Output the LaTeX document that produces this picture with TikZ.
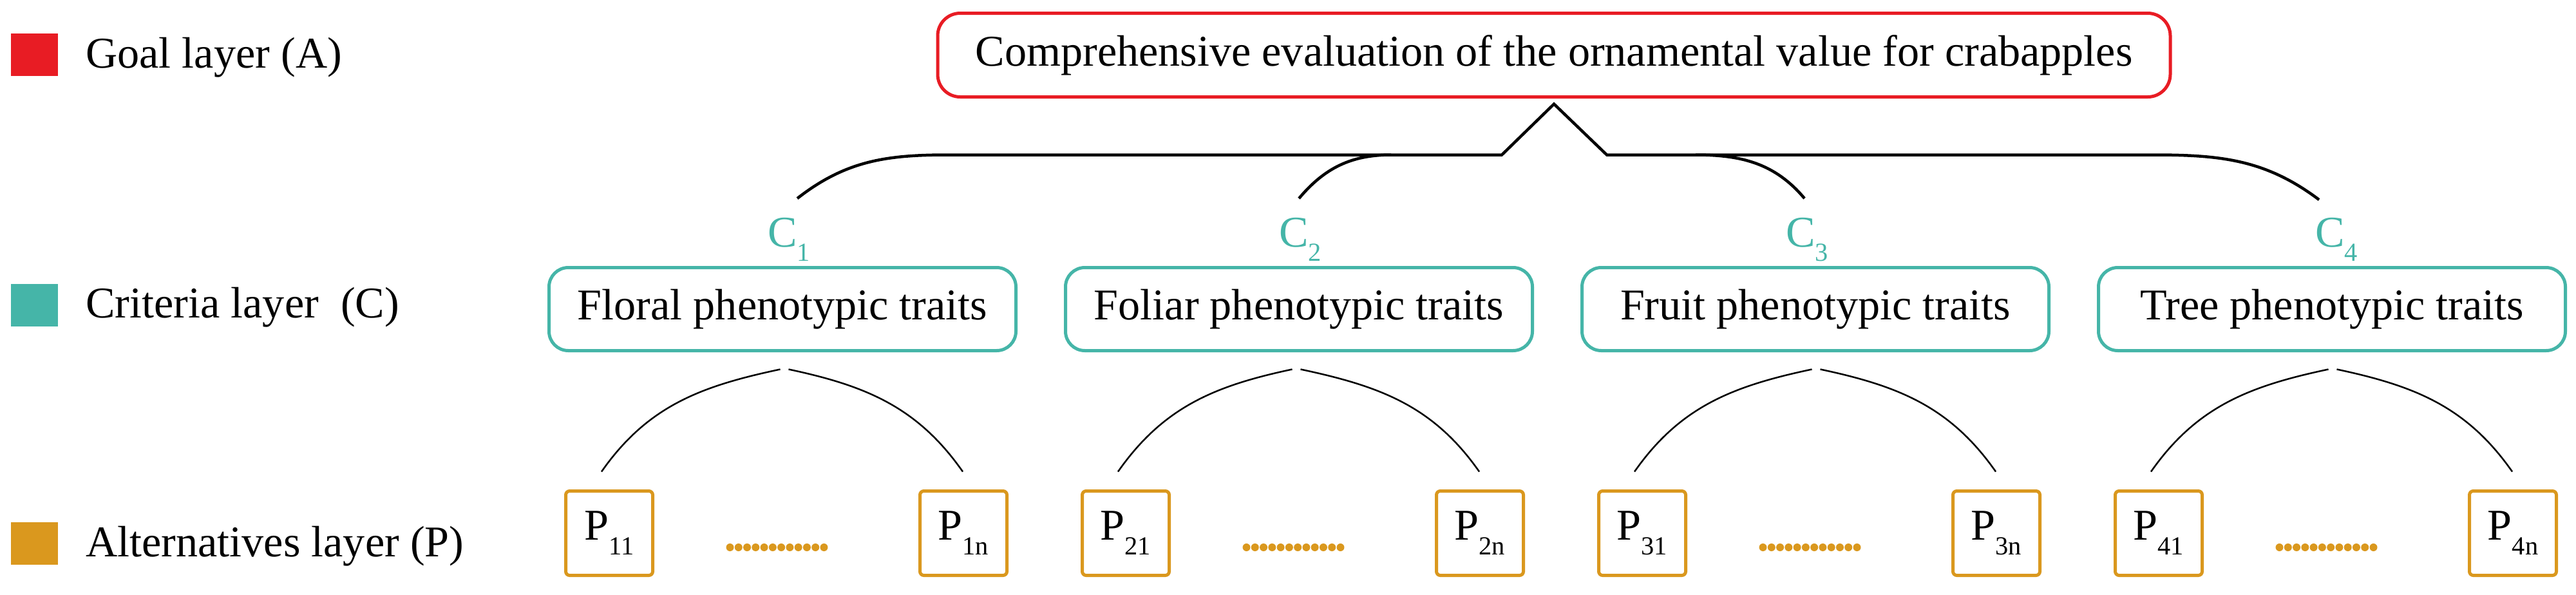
\documentclass[tikz,border=0pt]{standalone}
\usepackage{fontspec}
\setmainfont{Liberation Serif}
\usetikzlibrary{positioning,calc}
\usepackage{xcolor}

\definecolor{goalred}{RGB}{232,28,36}
\definecolor{critteal}{RGB}{69,181,168}
\definecolor{altorange}{RGB}{218,152,30}
\newcommand{\lsub}[1]{\raisebox{-6.5pt}{\fontsize{11.5}{12}\selectfont #1}}

\begin{document}
\begin{tikzpicture}[
				font=\fontsize{19.4}{23}\selectfont,
				goal/.style={draw=goalred,line width=0.05cm,rounded corners=0.35cm,minimum width=19.14cm,minimum height=1.30cm,inner sep=0},
				criterion/.style={draw=critteal,line width=0.05cm,rounded corners=0.3cm,minimum width=7.25cm,minimum height=1.29cm,inner sep=0},
				alt/.style={draw=altorange,line width=0.05cm,rounded corners=0.06cm,minimum width=1.35cm,minimum height=1.31cm,inner sep=0},
				clabel/.style={text=critteal,inner sep=0,anchor=base},
				legendbox/.style={minimum width=0.73cm,minimum height=0.66cm,inner sep=0},
				legendtext/.style={inner sep=0},
				bracket/.style={line width=0.045cm,line join=miter},
				branch/.style={line width=0.025cm},
				dots/.style={altorange,line width=0.12cm,line cap=round,dash pattern=on 0pt off 0.1327cm}
				]
				
				\useasboundingbox (0,0) rectangle (40,-9.23);
				
				% Legenda
				\node[legendbox,fill=goalred] (keyA) at (0.535,-0.85) {};
				\node[legendbox,fill=critteal] (keyC) at (0.535,-4.74) {};
				\node[legendbox,fill=altorange] (keyP) at (0.535,-8.44) {};
				\node[legendtext,right=0.42cm of keyA,anchor=base west,yshift=-0.2cm] (txtA) {Goal layer (A)};
				\node[legendtext,right=0.42cm of keyC,anchor=base west,yshift=-0.19cm] (txtC) {Criteria layer~~(C)};
				\node[legendtext,right=0.42cm of keyP,anchor=base west,yshift=-0.2cm] (txtP) {Alternatives layer (P)};
				
				% Obiettivo
				\node[goal] (goal) at (24.13,-0.855) {Comprehensive evaluation of the ornamental value for crabapples};
				
				% Criteri
				\node[criterion] (floral) at (12.15,-4.80) {Floral phenotypic traits};
				\node[criterion,right=0.72cm of floral] (foliar) {Foliar phenotypic traits};
				\node[criterion,right=0.72cm of foliar] (fruit) {Fruit phenotypic traits};
				\node[criterion,right=0.72cm of fruit] (tree) {Tree phenotypic traits};
				
				\node[clabel] (c1) at ($(floral.north)+(0.10,0.30)$) {C\lsub{1}};
				\node[clabel] (c2) at ($(foliar.north)+(0.02,0.30)$) {C\lsub{2}};
				\node[clabel] (c3) at ($(fruit.north)+(-0.13,0.30)$) {C\lsub{3}};
				\node[clabel] (c4) at ($(tree.north)+(0.07,0.30)$) {C\lsub{4}};
				
				% Alternative
				\node[alt] (p11) at ($(floral.center)+(-2.69,-3.48)$) {P\lsub{11}};
				\node[alt,right=4.10cm of p11] (p1n) {P\lsub{1n}};
				\node[alt] (p21) at ($(foliar.center)+(-2.69,-3.48)$) {P\lsub{21}};
				\node[alt,right=4.10cm of p21] (p2n) {P\lsub{2n}};
				\node[alt] (p31) at ($(fruit.center)+(-2.69,-3.48)$) {P\lsub{31}};
				\node[alt,right=4.10cm of p31] (p3n) {P\lsub{3n}};
				\node[alt] (p41) at ($(tree.center)+(-2.69,-3.48)$) {P\lsub{41}};
				\node[alt,right=4.10cm of p41] (p4n) {P\lsub{4n}};
				
				% Parentesi superiore
				\coordinate (apex) at ($(goal.south)+(0,-0.085)$);
				\coordinate (barL) at ($(apex)+(-9.41,-0.79)$);
				\coordinate (footL) at ($(apex)+(-0.81,-0.79)$);
				\coordinate (footR) at ($(apex)+(0.82,-0.79)$);
				\coordinate (barR) at ($(apex)+(9.30,-0.79)$);
				\coordinate (fork2) at ($(apex)+(-2.53,-0.79)$);
				\coordinate (fork3) at ($(apex)+(2.20,-0.79)$);
				\coordinate (ct1) at ($(c1.north)+(0.13,0.29)$);
				\coordinate (ct2) at ($(c2.north)+(-0.02,0.29)$);
				\coordinate (ct3) at ($(c3.north)+(-0.04,0.29)$);
				\coordinate (ct4) at ($(c4.north)+(-0.27,0.27)$);
				
				\draw[bracket] (ct1) to[out=38,in=180] (barL) -- (footL) -- (apex) -- (footR) -- (barR) to[out=0,in=143] (ct4);
				\draw[bracket] (ct2) to[out=50,in=180] (fork2);
				\draw[bracket] (fork3) to[out=0,in=130] (ct3);
				
				% Archi criteri - alternative
				\draw[branch] ($(p11.north)+(-0.12,0.275)$) to[out=55,in=192] ($(floral.south)+(-0.035,-0.265)$);
				\draw[branch] ($(floral.south)+(0.095,-0.265)$) to[out=-12,in=125] ($(p1n.north)+(-0.01,0.275)$);
				\draw[branch] ($(p21.north)+(-0.12,0.275)$) to[out=55,in=192] ($(foliar.south)+(-0.105,-0.265)$);
				\draw[branch] ($(foliar.south)+(0.025,-0.265)$) to[out=-12,in=125] ($(p2n.north)+(-0.01,0.275)$);
				\draw[branch] ($(p31.north)+(-0.12,0.275)$) to[out=55,in=192] ($(fruit.south)+(-0.055,-0.265)$);
				\draw[branch] ($(fruit.south)+(0.075,-0.265)$) to[out=-12,in=125] ($(p3n.north)+(-0.01,0.275)$);
				\draw[branch] ($(p41.north)+(-0.12,0.275)$) to[out=55,in=192] ($(tree.south)+(-0.055,-0.265)$);
				\draw[branch] ($(tree.south)+(0.075,-0.265)$) to[out=-12,in=125] ($(p4n.north)+(-0.01,0.275)$);
				
				% Puntini
				\coordinate (d1) at ($(p11)!0.5!(p1n)+(-0.14,-0.22)$);
				\coordinate (d2) at ($(p21)!0.5!(p2n)+(-0.14,-0.22)$);
				\coordinate (d3) at ($(p31)!0.5!(p3n)+(-0.14,-0.22)$);
				\coordinate (d4) at ($(p41)!0.5!(p4n)+(-0.14,-0.22)$);
				\draw[dots] ($(d1)+(-0.735,0)$) -- ($(d1)+(0.735,0)$);
				\draw[dots] ($(d2)+(-0.735,0)$) -- ($(d2)+(0.735,0)$);
				\draw[dots] ($(d3)+(-0.735,0)$) -- ($(d3)+(0.735,0)$);
				\draw[dots] ($(d4)+(-0.735,0)$) -- ($(d4)+(0.735,0)$);
				
			\end{tikzpicture}
\end{document}
